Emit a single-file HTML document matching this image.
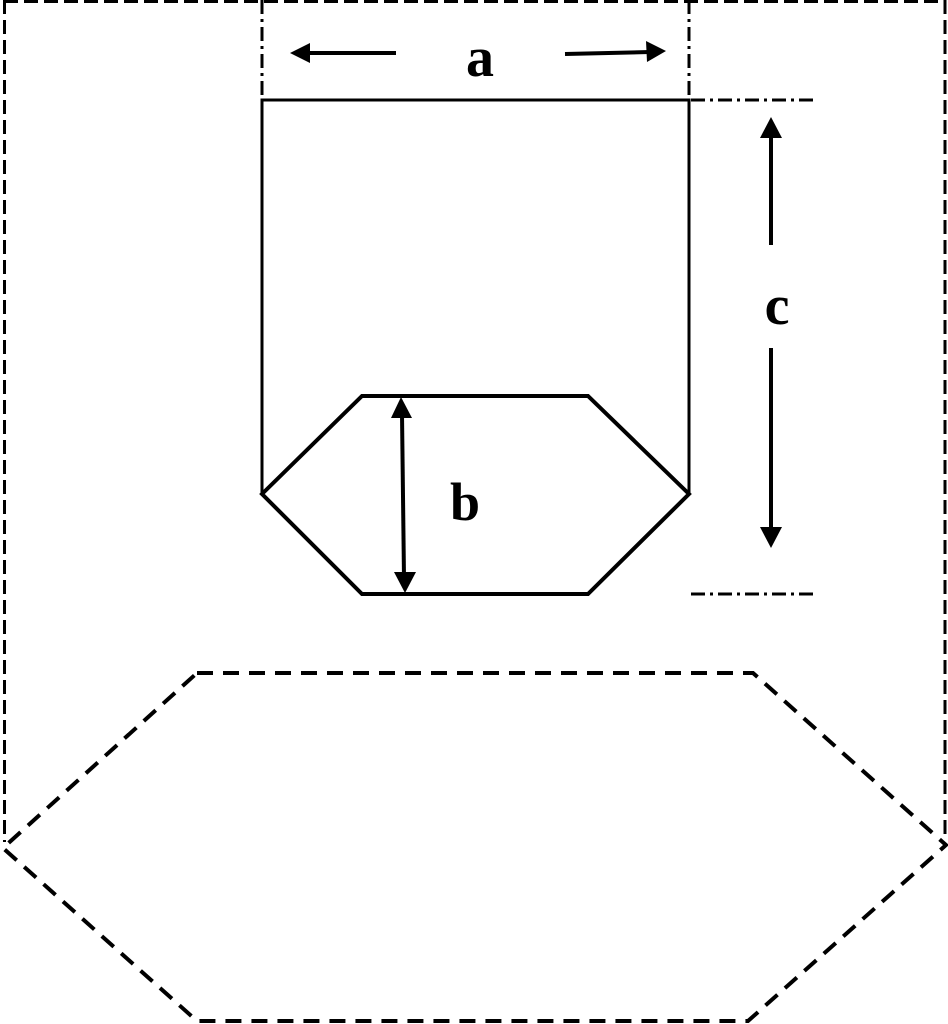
<!DOCTYPE html>
<html><head><style>html,body{margin:0;padding:0;background:#fff;width:948px;height:1024px;overflow:hidden}</style></head>
<body>
<svg width="948" height="1024" viewBox="0 0 948 1024" xmlns="http://www.w3.org/2000/svg">
<g stroke="#000" stroke-width="3" fill="none" stroke-dasharray="14 6">
<line x1="4" y1="1.5" x2="946" y2="1.5"/>
<line x1="4.5" y1="0" x2="4.5" y2="842"/>
<line x1="945" y1="0" x2="945" y2="840"/>
</g>
<polygon points="197,673 753,673 946,845 748,1021 197,1021 3,848" fill="none" stroke="#000" stroke-width="4" stroke-dasharray="16 10"/>
<g stroke="#000" stroke-width="3" fill="none" stroke-dasharray="14 5 3 5">
<line x1="262" y1="0" x2="262" y2="100"/>
<line x1="689" y1="0" x2="689" y2="100"/>
<line x1="691" y1="100" x2="818" y2="100"/>
<line x1="691" y1="594" x2="818" y2="594"/>
</g>
<polyline points="262,494 262,100 689,100 689,494" fill="none" stroke="#000" stroke-width="3"/>
<polygon points="262,494 362,396 588,396 689,494 588,594 362,594" fill="none" stroke="#000" stroke-width="4" stroke-linejoin="miter"/>
<g stroke="#000" stroke-width="4" fill="none">
<line x1="396" y1="53" x2="305" y2="53"/>
<line x1="565" y1="54" x2="650" y2="52"/>
<line x1="771" y1="245" x2="771" y2="135"/>
<line x1="771" y1="348" x2="771" y2="530"/>
<line x1="402" y1="414" x2="404" y2="578"/>
</g>
<g fill="#000">
<polygon points="290,53 310,43 310,63"/>
<polygon points="666,51 646,41 647,62"/>
<polygon points="771,117 760,138 782,138"/>
<polygon points="771,548 760,527 782,527"/>
<polygon points="401,397 391,418 412,418"/>
<polygon points="405,593 394,572 416,572"/>
</g>
<g font-family="'Liberation Serif', serif" font-weight="bold" fill="#000">
<text x="480" y="76" font-size="56" text-anchor="middle">a</text>
<text x="777" y="324" font-size="56" text-anchor="middle">c</text>
<text x="465" y="520" font-size="54" text-anchor="middle">b</text>
</g>
</svg>
</body></html>
